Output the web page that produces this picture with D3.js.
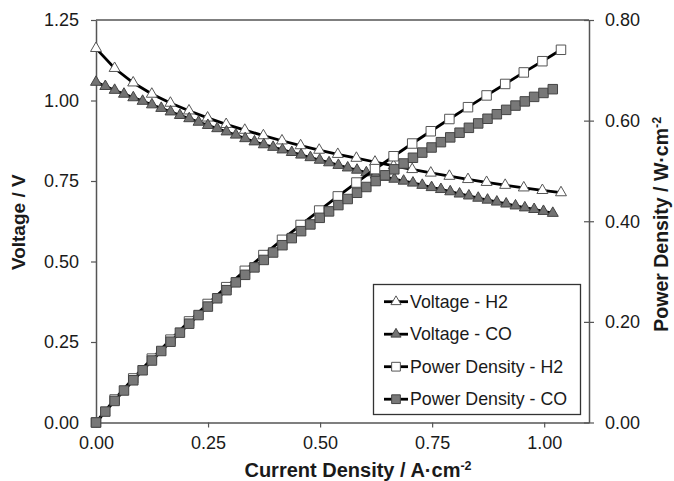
<!DOCTYPE html>
<html>
<head>
<meta charset="utf-8">
<script src="https://cdn.jsdelivr.net/npm/d3@7"></script>
<style>
  body { margin: 0; background: #fff; }
  svg { display: block; }
  text { font-family: "Liberation Sans", Arial, sans-serif; fill: #1a1a1a; }
</style>
</head>
<body>
<svg id="chart" width="674" height="481"></svg>
<script>
// ---- Data ----
const currentH2 = [0, 0.0415, 0.083, 0.1245, 0.166, 0.2075, 0.249, 0.2905, 0.332, 0.3735,
  0.415, 0.4565, 0.498, 0.5395, 0.581, 0.6225, 0.664, 0.7055, 0.747, 0.7885,
  0.83, 0.8715, 0.913, 0.9545, 0.996, 1.0375];
const voltageH2 = [1.162, 1.100, 1.055, 1.020, 0.992, 0.968, 0.946, 0.926, 0.908, 0.891,
  0.875, 0.860, 0.846, 0.833, 0.821, 0.809, 0.797, 0.786, 0.775, 0.765,
  0.755, 0.746, 0.737, 0.729, 0.721, 0.714];
const powerH2 = [0, 0.0457, 0.0876, 0.127, 0.1647, 0.2009, 0.2356, 0.269, 0.3015, 0.3328,
  0.3631, 0.3926, 0.4213, 0.4494, 0.477, 0.5036, 0.5292, 0.5545, 0.5789, 0.6032,
  0.6267, 0.6501, 0.6729, 0.6958, 0.7181, 0.7408];

const currentCO = [0, 0.0208, 0.0416, 0.0624, 0.0832, 0.104, 0.1248, 0.1456, 0.1664, 0.1872,
  0.208, 0.2288, 0.2496, 0.2704, 0.2912, 0.312, 0.3328, 0.3536, 0.3744, 0.3952,
  0.416, 0.4368, 0.4576, 0.4784, 0.4992, 0.52, 0.5408, 0.5616, 0.5824, 0.6032,
  0.624, 0.6448, 0.6656, 0.6864, 0.7072, 0.728, 0.7488, 0.7696, 0.7904, 0.8112,
  0.832, 0.8528, 0.8736, 0.8944, 0.9152, 0.936, 0.9568, 0.9776, 0.9984, 1.0192];
const voltageCO = [1.057, 1.044, 1.032, 1.020, 1.009, 0.998, 0.987, 0.976, 0.965, 0.954,
  0.944, 0.933, 0.923, 0.913, 0.903, 0.893, 0.882, 0.872, 0.863, 0.855,
  0.847, 0.839, 0.831, 0.823, 0.815, 0.807, 0.799, 0.791, 0.784, 0.776,
  0.769, 0.762, 0.756, 0.750, 0.744, 0.737, 0.730, 0.724, 0.717, 0.710,
  0.704, 0.697, 0.691, 0.685, 0.679, 0.673, 0.667, 0.662, 0.656, 0.650];
const powerCO = [0, 0.0217, 0.0429, 0.0636, 0.0839, 0.1038, 0.1232, 0.1421, 0.1606, 0.1786,
  0.1964, 0.2135, 0.2304, 0.2469, 0.2630, 0.2786, 0.2935, 0.3083, 0.3231, 0.3379,
  0.3524, 0.3665, 0.3803, 0.3937, 0.4068, 0.4196, 0.4321, 0.4442, 0.4566, 0.4681,
  0.4799, 0.4913, 0.5032, 0.5148, 0.5262, 0.5365, 0.5466, 0.5572, 0.5667, 0.5760,
  0.5857, 0.5944, 0.6037, 0.6127, 0.6214, 0.6299, 0.6382, 0.6472, 0.6550, 0.6625];

const xTicks = [0, 0.25, 0.5, 0.75, 1.0];
const yLeftTicks = [0, 0.25, 0.5, 0.75, 1.0, 1.25];
const yRightTicks = [0, 0.2, 0.4, 0.6, 0.8];
const seriesNames = ["Voltage - H2", "Voltage - CO", "Power Density - H2", "Power Density - CO"];

// ---- Layout ----
const svg = d3.select("#chart");
const L = 96, R = 589, T = 20, B = 422.5;
const axisColor = "#555";

const x = d3.scaleLinear().domain([0, 1.1]).range([L, R]);
const yL = d3.scaleLinear().domain([0, 1.25]).range([B, T]);
const yR = d3.scaleLinear().domain([0, 0.8]).range([B, T]);

// frame top
svg.append("line").attr("x1", L).attr("x2", R).attr("y1", T).attr("y2", T)
  .attr("stroke", axisColor).attr("stroke-width", 1.5);

// axes
const gx = svg.append("g").attr("transform", `translate(0,${B})`)
  .call(d3.axisBottom(x).tickValues(xTicks).tickFormat(d3.format(".2f")).tickSize(5).tickSizeOuter(0));
const gl = svg.append("g").attr("transform", `translate(${L},0)`)
  .call(d3.axisLeft(yL).tickValues(yLeftTicks).tickFormat(d3.format(".2f")).tickSize(5).tickSizeOuter(0));
const gr = svg.append("g").attr("transform", `translate(${R},0)`)
  .call(d3.axisRight(yR).tickValues(yRightTicks).tickFormat(d3.format(".2f")).tickSize(5).tickSizeOuter(0));
gr.selectAll(".tick line").attr("x1", -5);

[gx, gl, gr].forEach(g => {
  g.select(".domain").attr("stroke", axisColor).attr("stroke-width", 1.5);
  g.selectAll(".tick line").attr("stroke", axisColor).attr("stroke-width", 1.2);
  g.selectAll(".tick text").attr("font-size", "18px").attr("fill", "#1a1a1a")
    .style("font-family", "'Liberation Sans', Arial, sans-serif");
});
gx.selectAll(".tick text").attr("dy", "0.71em").attr("y", 14);
gl.selectAll(".tick text").attr("x", -17);
gr.selectAll(".tick text").attr("x", 16);

// ---- Series ----
const plot = svg.append("g");
function drawSeries(xs, ys, yScale, symbolType, size, fill, stroke) {
  const pts = xs.map((v, i) => [x(v), yScale(ys[i])]);
  plot.append("path").attr("d", d3.line()(pts))
    .attr("fill", "none").attr("stroke", "#000").attr("stroke-width", 2.8);
  const sym = d3.symbol().type(symbolType).size(size);
  plot.append("g").selectAll("path").data(pts).join("path")
    .attr("transform", d => `translate(${d[0]},${d[1]})`)
    .attr("d", sym).attr("fill", fill).attr("stroke", stroke).attr("stroke-width", 1);
}
const triSize = 52, sqSize = 90;
drawSeries(currentH2, voltageH2, yL, d3.symbolTriangle, triSize, "#fff", "#555");
drawSeries(currentCO, voltageCO, yL, d3.symbolTriangle, triSize, "#737373", "#444");
drawSeries(currentH2, powerH2, yR, d3.symbolSquare, sqSize, "#fff", "#555");
drawSeries(currentCO, powerCO, yR, d3.symbolSquare, sqSize, "#787878", "#444");

// ---- Axis titles ----
const xt = svg.append("text").attr("x", 358).attr("y", 477).attr("text-anchor", "middle")
  .attr("font-size", "20px").attr("font-weight", "bold");
xt.append("tspan").text("Current Density / A·cm");
xt.append("tspan").attr("dy", -7).attr("font-size", "12.5px").text("-2");

svg.append("text").attr("transform", `translate(25,${(T + B) / 2 + 1}) rotate(-90)`)
  .attr("text-anchor", "middle").attr("font-size", "19px").attr("font-weight", "bold")
  .text("Voltage / V");

const rt = svg.append("text").attr("transform", `translate(668,${(T + B) / 2 + 3}) rotate(-90)`)
  .attr("text-anchor", "middle").attr("font-size", "19.5px").attr("font-weight", "bold");
rt.append("tspan").text("Power Density / W·cm");
rt.append("tspan").attr("dy", -7).attr("font-size", "12.5px").text("-2");

// ---- Legend ----
const lg = svg.append("g");
lg.append("rect").attr("x", 373.5).attr("y", 284.5).attr("width", 207).attr("height", 130)
  .attr("fill", "#fff").attr("stroke", "#333").attr("stroke-width", 1.3);
const legendStyles = [
  [d3.symbolTriangle, triSize, "#fff", "#555"],
  [d3.symbolTriangle, triSize, "#737373", "#444"],
  [d3.symbolSquare, sqSize, "#fff", "#555"],
  [d3.symbolSquare, sqSize, "#787878", "#444"]
];
seriesNames.forEach((name, i) => {
  const cy = 301.7 + i * 32.5;
  lg.append("line").attr("x1", 384).attr("x2", 408).attr("y1", cy).attr("y2", cy)
    .attr("stroke", "#000").attr("stroke-width", 2.8);
  const s = legendStyles[i];
  lg.append("path").attr("transform", `translate(396,${cy})`)
    .attr("d", d3.symbol().type(s[0]).size(s[1] * 0.85))
    .attr("fill", s[2]).attr("stroke", s[3]).attr("stroke-width", 1);
  lg.append("text").attr("x", 410).attr("y", cy).attr("dy", "0.35em")
    .attr("font-size", "17.8px").text(name);
});
</script>
</body>
</html>
